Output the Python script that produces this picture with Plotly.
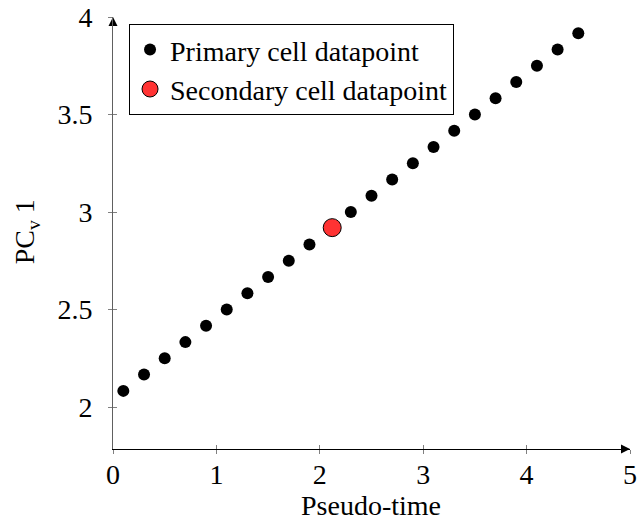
import plotly.graph_objects as go

primary_x = [0.1, 0.3, 0.5, 0.7, 0.9, 1.1, 1.3, 1.5, 1.7, 1.9,
             2.3, 2.5, 2.7, 2.9, 3.1, 3.3, 3.5, 3.7, 3.9, 4.1, 4.3, 4.5]
primary_y = [2.083, 2.167, 2.25, 2.333, 2.417, 2.5, 2.583, 2.667, 2.75, 2.833,
             3.0, 3.083, 3.167, 3.25, 3.333, 3.417, 3.5, 3.583, 3.667, 3.75, 3.833, 3.917]
secondary_x = [2.12]
secondary_y = [2.92]

x_ticks = [0, 1, 2, 3, 4, 5]
y_ticks = [2, 2.5, 3, 3.5, 4]
x_range = [0, 5]
y_range = [1.785, 4]

FONT = "Liberation Serif"
FS = 28

fig = go.Figure()
fig.add_trace(go.Scatter(
    x=primary_x, y=primary_y, mode="markers", name="Primary cell datapoint",
    marker=dict(color="black", size=12, line=dict(width=0)), cliponaxis=False))
fig.add_trace(go.Scatter(
    x=secondary_x, y=secondary_y, mode="markers", name="Secondary cell datapoint",
    marker=dict(color="#ff3333", size=18, line=dict(color="black", width=1)), cliponaxis=False))

# arrowheads at the axis ends
fig.add_trace(go.Scatter(
    x=[x_range[1], x_range[0]], y=[y_range[0], y_range[1]], mode="markers", showlegend=False,
    hoverinfo="skip", cliponaxis=False,
    marker=dict(symbol=["arrow-right", "arrow-up"], size=9, color="black",
                line=dict(width=0), standoff=0)))

# invisible trace to activate overlay axes for crossing ticks
fig.add_trace(go.Scatter(x=[None], y=[None], xaxis="x2", yaxis="y2", showlegend=False))

fig.update_layout(
    width=638, height=526,
    margin=dict(l=113, r=8, t=17, b=77),
    paper_bgcolor="white", plot_bgcolor="white",
    font=dict(family=FONT, size=FS, color="black"),
    showlegend=True,
    legend=dict(x=0.031, y=0.984, xanchor="left", yanchor="top",
                bordercolor="black", borderwidth=1, bgcolor="white",
                font=dict(family=FONT, size=FS), tracegroupgap=0,
                itemsizing="trace"),
    xaxis=dict(range=x_range, tickvals=x_ticks, ticktext=[str(v) for v in x_ticks],
               showgrid=False, zeroline=False, showline=True, linecolor="black", linewidth=1,
               ticks="inside", ticklen=4, tickcolor="#808080", tickwidth=1,
               ticklabelstandoff=0, automargin=False),
    yaxis=dict(range=y_range, tickvals=y_ticks, ticktext=[("%g" % v) for v in y_ticks],
               showgrid=False, zeroline=False, showline=True, linecolor="#606060", linewidth=1,
               ticks="inside", ticklen=4, tickcolor="#808080", tickwidth=1,
               ticklabelstandoff=14, automargin=False),
    xaxis2=dict(range=x_range, overlaying="x", tickvals=x_ticks, showticklabels=False,
                showgrid=False, zeroline=False, ticks="outside", ticklen=4,
                tickcolor="#808080", tickwidth=1, side="bottom", automargin=False),
    yaxis2=dict(range=y_range, overlaying="y", tickvals=y_ticks, showticklabels=False,
                showgrid=False, zeroline=False, ticks="outside", ticklen=4,
                tickcolor="#808080", tickwidth=1, side="left", automargin=False),
)

fig.add_annotation(text="Pseudo-time", x=0.499, y=-0.13, xref="paper", yref="paper",
                   xanchor="center", yanchor="middle", showarrow=False,
                   font=dict(family=FONT, size=FS))
fig.add_annotation(text="PC<sub>v</sub> 1", x=-0.168, y=0.502, xref="paper", yref="paper",
                   xanchor="center", yanchor="middle", showarrow=False, textangle=-90,
                   font=dict(family=FONT, size=FS))

fig.write_html("out.html")
